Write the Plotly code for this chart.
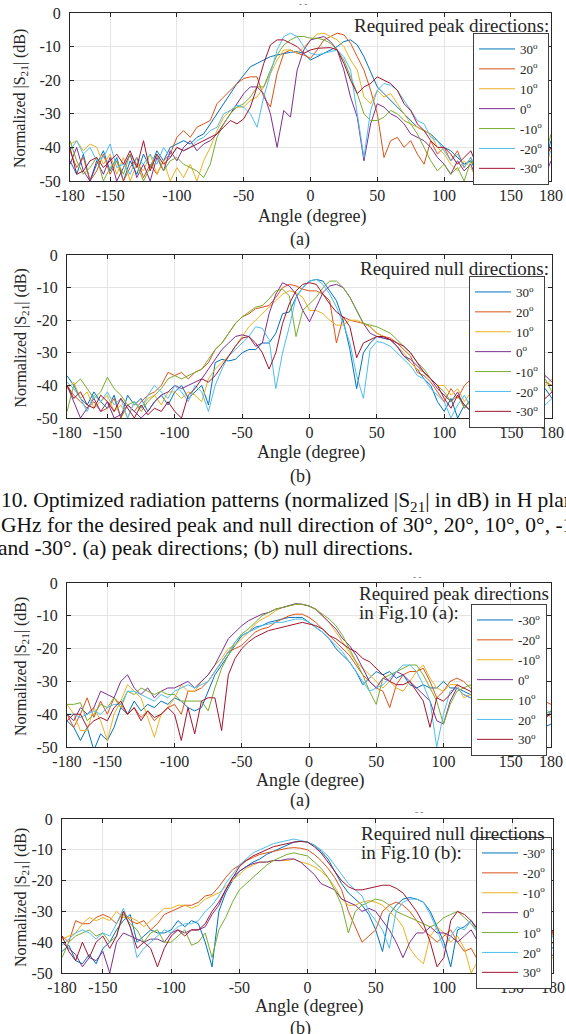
import plotly.graph_objects as go

W, H = 566, 1034

ANGLES = list(range(-180, 181, 5))

COLORS = ["#0072BD", "#D95319", "#EDB120", "#7E2F8E", "#77AC30", "#4DBEEE", "#A2142F"]
LABELS_AB = ["30", "20", "10", "0", "-10", "-20", "-30"]
LABELS_CD = ["-30", "-20", "-10", "0", "10", "20", "30"]

X_TICKS = [-180, -150, -100, -50, 0, 50, 100, 150, 180]
X_TICKTEXT = ["-180", "-150", "-100", "-50", "0", "50", "100", "150", "180"]
Y_TICKS = [0, -10, -20, -30, -40, -50]
Y_TICKTEXT = ["0", "-10", "-20", "-30", "-40", "-50"]

# ---------------- Fig.10 (a) peak directions ----------------
P1_30 = [-44, -48, -42, -50, -45, -41, -47, -43, -50, -44, -48, -42,
         -46, -41, -44, -40, -39, -38, -39, -37, -36, -33, -30, -27,
         -24, -21, -18.5, -16, -15, -14, -13, -12.5, -12, -11.7, -11.5, -12,
         -14, -13, -12, -11, -10, -8.5, -8, -9.5, -13, -17.5, -22, -24,
         -26, -28, -30, -32, -34, -35, -36, -38, -40, -41, -43, -45,
         -44, -48, -42, -46, -43, -49, -44, -41, -47, -43, -40, -45, -38]
P1_20 = [-41, -46, -43, -50, -47, -42, -48, -44, -50, -46, -43, -49,
         -45, -48, -44, -42, -37, -35, -37, -34, -33, -32, -27, -25,
         -23, -21, -19.5, -19, -19, -25, -28, -18, -12, -11, -12, -12.5,
         -13.5, -11, -8, -7, -6, -6.5, -9, -13, -17, -23, -30, -43,
         -38, -37, -40, -38, -42, -45, -38, -42, -40, -44, -41, -46,
         -43, -48, -45, -50, -44, -47, -42, -49, -45, -41, -47, -44, -40]
P1_10 = [-39, -38, -41, -39, -40, -45, -42, -48, -43, -50, -45, -47,
         -42, -48, -44, -50, -46, -49, -45, -50, -44, -40, -35, -31,
         -29, -28, -28, -26, -25, -22, -18, -14, -11, -11, -12, -10,
         -8, -6.3, -6, -7, -8, -10, -14, -17, -25, -27, -23, -25,
         -24, -27, -30, -33, -34, -35, -36, -40, -42, -45, -47, -44,
         -46, -50, -44, -48, -43, -47, -45, -50, -42, -46, -44, -41, -43]
P1_0 = [-45, -40, -47, -50, -44, -48, -43, -50, -46, -42, -49, -45,
        -50, -43, -47, -41, -44, -40, -38, -41, -39, -38, -36, -33,
        -30, -27, -24, -22, -22, -24, -30, -40, -29, -31, -17, -11,
        -8, -7.5, -7, -8.5, -11, -17, -25, -31, -44, -33, -27, -28,
        -30, -31, -33, -36, -37, -38, -40, -43, -45, -48, -44, -47,
        -45, -50, -46, -43, -48, -45, -50, -44, -47, -42, -46, -49, -44]
P1_M10 = [-38, -44, -48, -46, -43, -50, -46, -44, -48, -42, -45, -50,
          -46, -42, -47, -44, -43, -45, -46, -47, -49, -45, -37, -33,
          -30, -28, -27, -25, -22, -22, -17, -12.5, -9.5, -8, -7, -7,
          -7.5, -7.5, -8, -9, -11, -14, -19, -24, -30, -32, -32, -31,
          -29, -30, -32, -33, -36, -40, -44, -47, -45, -48, -46, -50,
          -44, -47, -50, -45, -48, -43, -46, -50, -45, -42, -48, -44, -36]
P1_M20 = [-41, -38, -42, -40, -44, -43, -39, -46, -45, -48, -43, -45,
          -42, -45, -40, -43, -40, -41, -40, -38, -37, -35, -34, -30,
          -29, -27.5, -28, -30, -34, -25, -18, -11, -7, -6, -7, -10,
          -12, -12.5, -12, -11.5, -11, -13, -17, -30, -43, -29, -23, -21,
          -21.5, -23, -26, -29, -32, -33, -37, -38, -41, -44, -42, -46,
          -43, -47, -41, -45, -49, -44, -40, -46, -43, -48, -42, -45, -41]
P1_M30 = [-40, -48, -47, -44, -43, -46, -44, -42, -45, -41, -46, -38,
          -47, -42, -45, -43, -40, -41, -40, -39, -38, -37, -36, -34,
          -32, -33, -31.5, -28, -22, -15, -9.5, -8, -8, -9, -10, -12,
          -11, -10.5, -10.5, -10.3, -11, -15, -20, -24, -22, -21, -19, -20,
          -21, -23, -27, -29, -33, -35, -38, -40, -40, -42, -45, -43,
          -41, -46, -44, -48, -43, -45, -49, -42, -46, -44, -47, -43, -40]

# ---------------- Fig.10 (b) null directions ----------------
P2_30 = [-37, -40, -44, -46, -42, -45, -47, -43, -50, -43, -46, -44,
         -48, -45, -43, -46, -42, -40, -44, -42, -40, -46, -33, -32,
         -32.5, -32, -30, -29, -29, -27, -27, -24, -18, -17.5, -13, -10,
         -8, -7.5, -8, -11, -14, -20, -29, -41, -30, -27, -25, -25.5,
         -26, -28, -31, -33, -35, -38, -40, -45, -48, -44, -50, -46,
         -48, -44, -50, -45, -47, -42, -46, -44, -48, -43, -45, -41, -44]
P2_20 = [-40, -43, -45, -47, -45, -48, -47, -44, -50, -46, -48, -45,
         -43, -42, -40, -36, -37, -36, -38, -36, -35, -33, -29, -27,
         -24, -21, -19, -18, -16.5, -16, -15.5, -13, -10, -9, -9.5, -10.5,
         -11, -11, -12, -14, -27, -19, -20, -20.5, -21, -22, -24, -25,
         -25.5, -27, -29, -31, -36, -37, -39, -42, -45, -41, -44, -40,
         -38, -43, -47, -42, -45, -49, -44, -46, -41, -45, -43, -39, -40]
P2_10 = [-41, -39, -44, -42, -47, -45, -43, -48, -46, -50, -45, -47,
         -44, -43, -46, -42, -42, -44, -42, -43, -45, -38, -35, -33,
         -31, -28, -25, -22, -20, -18, -16, -14, -12, -11, -11.5, -13,
         -17, -17, -18, -20, -21.5, -21.5, -20, -20, -21, -22, -24, -25,
         -26, -28, -30, -33, -35, -36, -38, -40, -40, -43, -41, -45,
         -42, -40, -46, -43, -48, -44, -41, -47, -45, -42, -46, -40, -38]
P2_0 = [-40, -45, -50, -47, -44, -48, -45, -50, -49, -46, -48, -50,
        -48, -45, -43, -42, -40, -41, -40, -39, -38, -35, -32, -29,
        -27, -25, -24.5, -25, -28, -27, -18, -12, -8.5, -9.5, -12, -17,
        -20.5, -16, -11.5, -9.5, -9, -10, -13, -17, -21, -24, -25, -25.5,
        -26, -28, -31, -32, -34, -36, -38, -41, -43, -45, -42, -47,
        -44, -48, -45, -42, -47, -43, -46, -49, -44, -41, -45, -37, -39]
P2_M10 = [-48, -40, -38, -41, -44, -42, -37.5, -41, -43, -46, -45, -48,
          -45, -43, -41, -38, -37, -38, -37, -36, -35, -32, -29, -27,
          -24, -21, -19, -17.5, -16, -15.5, -13.5, -11, -10.5, -12.5, -25, -17,
          -15, -13, -10, -8, -8, -10, -13, -17, -21, -21.5, -22, -23,
          -24, -26, -28, -30, -33, -35, -38, -40, -42, -45, -43, -47,
          -44, -41, -46, -43, -48, -45, -42, -47, -44, -40, -45, -38, -42]
P2_M20 = [-39, -41, -44, -48, -43, -45, -42, -46, -44, -50, -45, -47,
          -43, -40, -42, -44, -40, -42, -45, -40, -42, -48, -40, -35,
          -31, -29, -27, -25, -22, -22.5, -26, -41, -30, -22, -13, -10,
          -8, -7.5, -9, -12, -16, -21, -27, -37, -44, -29, -26.5, -27,
          -28, -30, -32, -34, -37, -38, -41, -43, -45, -50, -46, -43,
          -47, -44, -49, -45, -42, -48, -44, -46, -43, -45, -41, -46, -44]
P2_M30 = [-40, -44, -42, -46, -47, -43, -45, -48, -44, -47, -50, -46,
          -49, -47, -48, -45, -48, -50, -43, -41, -38, -39, -37, -34,
          -31, -28, -25.5, -25, -27, -30, -35, -30, -21, -15, -11, -9,
          -8.5, -9, -12, -15, -17.5, -19, -22, -31.5, -27, -26, -25, -25,
          -26, -27, -28, -30, -33, -36, -38, -40, -44, -47, -43, -46,
          -48, -43, -45, -47, -42, -46, -44, -48, -43, -45, -40, -44, -42]

# ---------------- Fig.11 (a) peak directions in Fig.10 (a) ----------------
P3_M30 = [-42, -44, -48, -44, -51, -46, -48, -44, -38, -40, -36, -39,
          -37, -38, -36, -37, -35, -36, -38, -39, -38, -33, -28, -25,
          -22, -19, -16, -15, -13.5, -13, -12, -11.5, -11, -10.5, -10.5, -10.5,
          -12, -13.5, -15, -17, -20, -22, -24, -27, -31, -29, -27, -28,
          -27, -29, -28, -31, -32, -31, -32, -32, -30, -32, -32, -33,
          -34, -36, -38, -35, -39, -37, -40, -36, -41, -38, -42, -44, -43]
P3_M20 = [-40, -44, -40, -35, -41, -36, -40, -35, -37, -40, -38, -41,
          -39, -42, -40, -38, -37, -40, -33, -33, -32, -30, -27, -24,
          -21, -20, -19, -17, -15, -14, -13.5, -12, -11, -10, -9.5, -9.5,
          -10.5, -12, -14, -16, -18, -20, -22, -25, -28, -30, -32, -33,
          -38, -31, -28, -27, -27, -26, -30, -35, -33, -30, -29, -30,
          -32, -34, -31, -35, -38, -36, -40, -37, -39, -35, -38, -36, -37]
P3_M10 = [-37, -40, -45, -45, -38, -42, -48, -40, -36, -31, -33, -35,
          -41, -47, -40, -38, -35, -31, -33, -33, -30, -28, -25, -23,
          -20, -19, -17, -15, -12.5, -11, -10, -8.5, -7.5, -7, -6.5, -6.5,
          -7, -8, -10, -12, -15, -18, -21, -24, -26, -28, -30, -32,
          -30, -32, -33, -30, -27, -25, -29, -32, -33, -31, -31, -35,
          -34, -37, -35, -39, -36, -40, -38, -42, -37, -40, -43, -39, -41]
P3_0 = [-40, -42, -38, -40, -38, -33, -34, -35, -30, -28, -32, -34,
        -32, -35, -33, -32, -32, -31, -30, -32, -30, -28, -25, -21,
        -17, -15, -13, -11.5, -10.5, -9.5, -9, -8, -7.5, -7, -6.3, -6.5,
        -7, -8, -10, -12, -14, -17, -19, -22, -26, -30, -32, -29,
        -30, -27, -28, -30, -32, -34, -36, -42, -43, -36, -32, -34,
        -35, -33, -37, -35, -38, -36, -40, -38, -41, -37, -40, -42, -39]
P3_10 = [-37, -37, -36.5, -42, -40, -37, -38, -35, -38, -33, -34, -32,
         -33, -34, -33, -34, -34, -36, -36, -36, -36, -39, -32, -26,
         -22, -18, -15.5, -14, -12, -10, -9, -8, -7.5, -7, -6.5, -6.5,
         -7, -8, -9.5, -11, -13, -16, -20, -24, -28, -33, -37, -29,
         -28, -27, -26, -25, -25, -28, -32, -36, -43, -37, -33, -32,
         -31, -34, -36, -33, -37, -35, -39, -36, -38, -41, -37, -40, -39]
P3_20 = [-40, -40, -41, -40, -39, -40, -38, -37, -37, -33, -33, -34,
         -35, -36, -34, -35, -33, -32, -31, -32, -31, -30, -27, -24,
         -21, -18, -16, -15, -14, -13, -12.5, -12, -12, -11.5, -11, -11,
         -12, -13.5, -15, -17, -19, -21, -24, -27, -30, -33, -32, -31,
         -29, -27, -25, -25, -27, -31, -36, -50, -40, -33, -32, -34,
         -35, -33, -37, -34, -38, -36, -39, -35, -40, -37, -41, -38, -40]
P3_30 = [-42, -40, -40, -44, -42, -41, -42, -38, -36, -40, -38, -42,
         -39, -41, -40, -38, -40, -48, -38, -46, -36, -35, -35, -45,
         -28, -23, -20, -18, -16.5, -15.5, -14.5, -14, -13.5, -13, -12.5, -12,
         -12.5, -13, -14, -16, -17, -18.5, -20, -21, -23, -24, -26, -28,
         -30, -31, -31, -30, -33, -36, -44, -35, -36, -34, -31, -32,
         -33, -36, -34, -38, -35, -39, -37, -40, -38, -42, -39, -41, -40]

# ---------------- Fig.11 (b) null directions in Fig.10 (b) ----------------
P4_M30 = [-43, -41, -46, -47, -44, -47, -42, -40, -36, -33, -31, -40,
          -38, -36, -37, -37, -36, -33, -35, -33, -34, -40, -48, -30,
          -24, -20, -17, -15.5, -14, -13, -11.5, -10.5, -9.5, -8.5, -7.5, -7.2,
          -7.5, -8.5, -10.5, -13, -17, -21, -24, -26, -28, -31, -36, -43,
          -31, -28, -26, -25.5, -26, -27, -30, -35, -40, -48, -36, -35,
          -33, -36, -34, -38, -35, -40, -37, -42, -38, -41, -44, -40, -42]
P4_M20 = [-38, -40, -33, -34, -34, -32, -31, -32, -34, -30, -33, -34,
          -33, -36, -34, -31, -30, -29, -28, -28, -27, -25, -24.5, -22,
          -19, -16.5, -15, -13.5, -12.5, -11.5, -11, -10.5, -10, -9.5, -9.3, -9.5,
          -10, -11.5, -13.5, -16, -19, -23, -30, -35, -40, -38, -36, -30,
          -28, -27, -28, -30, -33, -36, -38, -40, -38, -36, -40, -43,
          -42, -46, -48, -44, -50, -45, -47, -43, -49, -46, -44, -48, -36]
P4_M10 = [-39, -38, -37, -34, -32, -33, -32, -33, -30, -32, -32, -33,
          -35, -33, -31, -29, -29, -28, -28, -29, -28, -26, -25, -24,
          -22, -20, -18, -16, -15, -14, -14, -13.5, -13.5, -13.5, -13, -14,
          -14.5, -15.5, -17, -19, -22, -26, -28, -28, -27, -26.5, -27, -28,
          -30, -32, -35, -42, -45, -47, -38, -35, -37, -40, -38, -42,
          -50, -46, -48, -52, -47, -50, -45, -48, -51, -46, -49, -47, -45]
P4_0 = [-40, -42, -44, -48, -45, -46, -43, -50, -40, -37, -38, -39,
        -40, -39, -39, -40, -37, -36, -37, -36, -36, -35, -31, -28,
        -23, -19, -17, -15.5, -14.5, -14, -14, -13.5, -13.5, -13, -13, -14,
        -16, -18, -21, -22, -23, -26, -27, -28, -30, -29, -30, -33,
        -36, -40, -45, -40, -37, -37, -35, -37, -37, -38, -40, -38,
        -36, -40, -42, -38, -44, -41, -46, -43, -39, -45, -42, -47, -44]
P4_10 = [-45, -40, -38, -37, -36, -38, -37, -40, -38, -31, -34, -36,
         -40, -37, -36, -40, -40, -38, -36, -41, -40, -37, -45, -36,
         -32, -27, -23, -21, -19, -17, -15, -13.5, -12.5, -11.5, -11, -11.5,
         -12, -14, -16, -19, -23, -28, -37, -30, -28, -27, -26, -26.5,
         -28, -30, -31, -32, -33, -34, -35, -34, -32, -31, -30, -32,
         -34, -37, -35, -39, -36, -41, -38, -42, -40, -44, -41, -43, -40]
P4_20 = [-41, -39, -37, -36, -37, -39, -37, -38, -34, -29, -35, -45,
         -42, -40, -38, -36, -37, -35, -34, -34, -33, -30, -28, -25,
         -21, -18, -15, -13, -11, -10, -9, -8, -7.5, -7, -6.5, -7,
         -7.5, -8.5, -10, -12, -15, -18, -21, -23, -25, -30, -33, -36,
         -42, -30, -27, -26, -26, -27, -31, -36, -42, -38, -35, -36,
         -33, -37, -35, -39, -36, -40, -38, -42, -39, -43, -40, -41, -38]
P4_30 = [-38, -43, -46, -40, -45, -40, -38, -42, -38, -30, -35, -42,
         -40, -42, -48, -42, -38, -36, -38, -36, -36, -34, -30, -27,
         -23, -19, -15.5, -13.5, -12, -11, -10, -9, -8.5, -8, -7.5, -7.3,
         -7.5, -9, -11, -14, -17, -20, -22, -23, -23, -22.5, -22, -21.5,
         -21.5, -22.5, -24, -27, -30, -34, -40, -48, -45, -33, -30, -31,
         -33, -36, -34, -38, -35, -39, -37, -41, -38, -40, -43, -39, -36]

PANELS = [
    ([P1_30, P1_20, P1_10, P1_0, P1_M10, P1_M20, P1_M30], LABELS_AB),
    ([P2_30, P2_20, P2_10, P2_0, P2_M10, P2_M20, P2_M30], LABELS_AB),
    ([P3_M30, P3_M20, P3_M10, P3_0, P3_10, P3_20, P3_30], LABELS_CD),
    ([P4_M30, P4_M20, P4_M10, P4_0, P4_10, P4_20, P4_30], LABELS_CD),
]
for series, _ in PANELS:
    for s in series:
        assert len(s) == len(ANGLES), len(s)


def fx(px):
    return px / W


def fy(py):
    return 1 - py / H


# plot-area boxes in pixels: (left, right, top, bottom)
BOXES = [(70, 551, 13, 181), (67, 552, 255, 418), (67, 551, 583, 747), (62, 553, 819, 973)]
# legend boxes: (right, top)
LEG = [(549, 33), (545, 276), (547, 604), (552, 837)]

FONT = "Liberation Serif, Times New Roman, serif"
INK = "#262626"

fig = go.Figure()
layout = dict(width=W, height=H, margin=dict(l=0, r=0, t=0, b=0, pad=0), autosize=False,
              paper_bgcolor="white", plot_bgcolor="white", showlegend=True,
              font=dict(family=FONT, color=INK))

for i, ((series, labels), box, leg) in enumerate(zip(PANELS, BOXES, LEG)):
    n = "" if i == 0 else str(i + 1)
    xa, ya = "x" + n, "y" + n
    lg = "legend" + n
    for vals, lab, col in zip(series, labels, COLORS):
        fig.add_trace(go.Scatter(x=ANGLES, y=vals, mode="lines", name=lab + "<sup>o</sup>",
                                 line=dict(color=col, width=1), xaxis=xa, yaxis=ya,
                                 legend=lg, showlegend=True))
    l, r, t, b = box
    common = dict(showline=True, mirror="ticks", linecolor=INK, linewidth=1,
                  ticks="inside", ticklen=4, tickcolor=INK, showgrid=True,
                  gridcolor="#e4e4e4", gridwidth=1, zeroline=False, automargin=False,
                  tickfont=dict(family=FONT, size=16, color=INK))
    layout["xaxis" + n] = dict(common, domain=[fx(l), fx(r)], anchor=ya, range=[-180, 180],
                               tickvals=X_TICKS, ticktext=X_TICKTEXT, ticklabelstandoff=0)
    layout["yaxis" + n] = dict(common, domain=[fy(b), fy(t)], anchor=xa, range=[-50, 0],
                               tickvals=Y_TICKS, ticktext=Y_TICKTEXT, ticklabelstandoff=5)
    layout[lg] = dict(x=fx(leg[0]), y=fy(leg[1]), xanchor="right", yanchor="top",
                      bgcolor="white", bordercolor="#404040", borderwidth=1,
                      font=dict(family=FONT, size=13, color=INK), tracegroupgap=0,
                      itemwidth=36, itemclick=False)

fig.update_layout(**layout)

ann = []


def text(s, x, y, size, xanchor="center", angle=0, color=INK):
    ann.append(dict(text=s, x=fx(x), y=fy(y), xref="paper", yref="paper", showarrow=False,
                    xanchor=xanchor, yanchor="middle", textangle=angle, borderpad=0,
                    font=dict(family=FONT, size=size, color=color)))


YT = "Normalized |S<sub>21</sub>| (dB)"
for (l, r, t, b), xt_y, sub_y, sub in zip(BOXES, [216, 453, 780, 1006], [240, 476, 800, 1028],
                                           ["(a)", "(b)", "(a)", "(b)"]):
    text(YT, 21, (t + b) / 2 + 2, 16, angle=-90)
    text("Angle (degree)", (l + r) / 2 + 1, xt_y, 18)
    text(sub, 300, sub_y, 18)

text("Required peak directions:", 550, 25, 19, xanchor="right")
text("Required null directions:", 550, 268, 19, xanchor="right")
text("Required peak directions", 358, 593, 19, xanchor="left")
text("in Fig.10 (a):", 358, 613, 19, xanchor="left")
text("Required null directions", 360, 833, 19, xanchor="left")
text("in Fig.10 (b):", 360, 853, 19, xanchor="left")

text("10. Optimized radiation patterns (normalized |S<sub>21</sub>| in dB) in H plane at 2.45",
     0, 501, 21.5, xanchor="left", color="#111111")
text("GHz for the desired peak and null direction of 30°, 20°, 10°, 0°, -10°, -20°,",
     0, 525, 21.5, xanchor="left", color="#111111")
text("and -30°. (a) peak directions; (b) null directions.",
     -3, 548, 21.5, xanchor="left", color="#111111")

text("- -", 303, 4, 9, color="#555555")
text("- -", 417, 577, 9, color="#555555")
text("- -", 419, 812, 9, color="#555555")

fig.update_layout(annotations=ann)
fig.write_html("out.html",
               post_script="document.body.style.margin='0';"
                           "document.documentElement.style.overflow='hidden';")
